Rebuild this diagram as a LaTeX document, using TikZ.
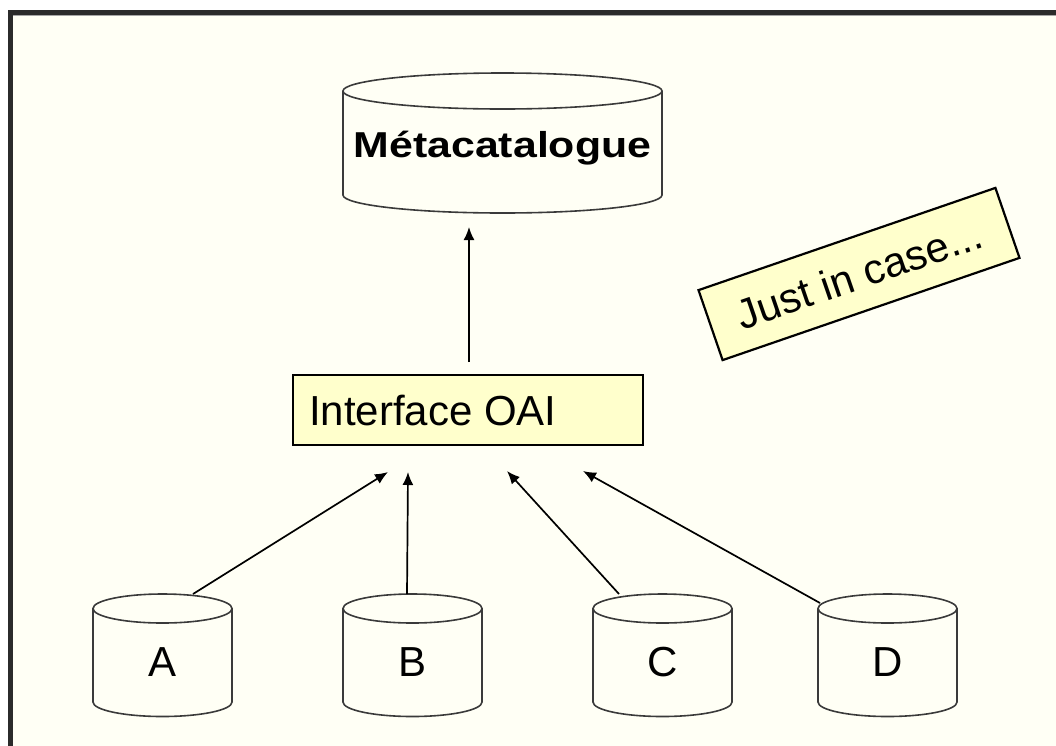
\documentclass[tikz,border=0pt]{standalone}
\usepackage{fontspec}
\usepackage{graphicx}
\setmainfont{Liberation Sans}
\usetikzlibrary{arrows.meta}
\definecolor{bgcream}{HTML}{FFFFF5}
\definecolor{boxyellow}{HTML}{FFFFCC}
\definecolor{framegray}{HTML}{2B2B2B}
\definecolor{cylline}{HTML}{3A3A3A}
\tikzset{
  cylstyle/.style={draw=cylline, line width=1.6pt, fill=bgcream},
  arr/.style={draw=black, line width=1.7pt, -{Latex[length=13pt,width=11pt]}},
  yellowbox/.style={draw=black, fill=boxyellow, inner sep=0pt},
  dblabel/.style={inner sep=0pt, font=\fontsize{42}{46}\selectfont},
}
% #1 name, #2 cx, #3 top ellipse centre y, #4 bottom arc centre y, #5 rx, #6 ry
% (radii in pt: angles are in page orientation, 270 = down)
\newcommand{\dbcylinder}[6]{%
  \path[cylstyle] (#2-#5,#3) -- (#2-#5,#4)
     arc[start angle=180, end angle=360, x radius=#5pt, y radius=#6pt]
     -- (#2+#5,#3)
     arc[start angle=0, end angle=180, x radius=#5pt, y radius=#6pt] -- cycle;
  \draw[draw=cylline, line width=1.6pt] (#2-#5,#3)
     arc[start angle=180, end angle=360, x radius=#5pt, y radius=#6pt];
  \coordinate (#1) at (#2,#3);
}
\begin{document}
\begin{tikzpicture}[x=1pt, y=-1pt]
  \useasboundingbox (0,0) rectangle (1056,745);
  \clip (0,0) rectangle (1056,745);
  \fill[white] (0,0) rectangle (1056,745);
  % frame
  \draw[framegray, line width=5pt, fill=bgcream] (10.5,12.5) rectangle (1120,820);
  \draw[gray!70, line width=1pt] (13,15.5) -- (1056,15.5);

  % Metacatalogue cylinder
  \dbcylinder{metatop}{502.5}{91}{195}{159.5}{18}
  \node[inner sep=0pt, anchor=base, font=\fontsize{36}{40}\selectfont\bfseries]
    (meta) at (502.5,157) {\scalebox{1.19}[1]{Métacatalogue}};

  % Interface OAI
  \node[yellowbox, line width=1.5pt, minimum width=350pt, minimum height=70pt]
    (oai) at (468,410) {};
  \node[dblabel, anchor=base west] (oaitext) at (309,425) {Interface OAI};

  % Just in case
  \node[yellowbox, line width=2.2pt, rotate=19, minimum width=314pt, minimum height=74pt,
        font=\fontsize{42}{46}\selectfont]
    (jic) at (859,274) {Just in case...};

  % bottom cylinders
  \dbcylinder{Atop}{162.5}{608.5}{702}{69.5}{14.5}
  \dbcylinder{Btop}{412.5}{608.5}{702}{69.5}{14.5}
  \dbcylinder{Ctop}{662.5}{608.5}{702}{69.5}{14.5}
  \dbcylinder{Dtop}{887.5}{608.5}{702}{69.5}{14.5}
  \node[dblabel] (A) at (162.5,662) {A};
  \node[dblabel] (B) at (412.5,662) {B};
  \node[dblabel] (C) at (662.5,662) {C};
  \node[dblabel] (D) at (887.5,662) {D};

  % connector end points
  \coordinate (oaiout) at (469,362);
  \coordinate (metain) at (469,227);
  \coordinate (Aout) at (193,594);
  \coordinate (Bout) at (407,594);
  \coordinate (Cout) at (619,594);
  \coordinate (Dout) at (820,603);
  \coordinate (Ain) at (388,472);
  \coordinate (Bin) at (408,472);
  \coordinate (Cin) at (507,471);
  \coordinate (Din) at (583,471);

  \draw[arr] (oaiout) -- (metain);
  \draw[arr] (Aout) -- (Ain);
  \draw[arr] (Bout) -- (Bin);
  \draw[arr] (Cout) -- (Cin);
  \draw[arr] (Dout) -- (Din);
\end{tikzpicture}
\end{document}
